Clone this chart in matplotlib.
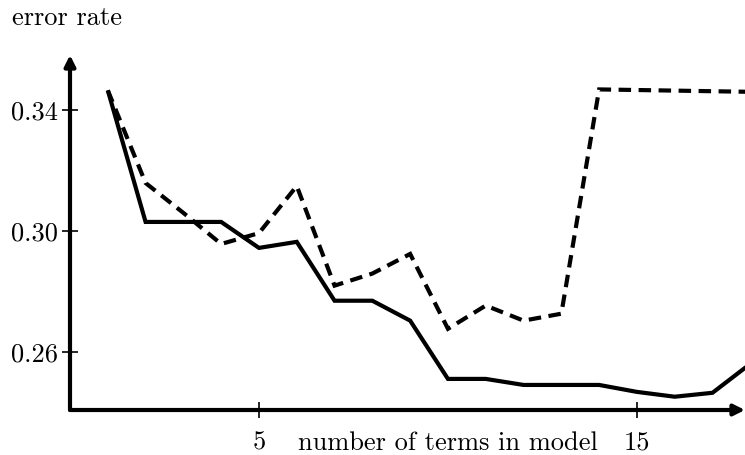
import numpy as np
import matplotlib.pyplot as plt

plt.rcParams['font.family'] = 'serif'
plt.rcParams['font.serif'] = ['cmr10']
plt.rcParams['mathtext.fontset'] = 'cm'
plt.rcParams['axes.formatter.use_mathtext'] = True

# model size vs. error rate
terms = np.arange(1, 19)
err_solid = [0.3466, 0.3030, 0.3030, 0.3030, 0.2944, 0.2964, 0.2769, 0.2769, 0.2703,
             0.2510, 0.2510, 0.2490, 0.2490, 0.2490, 0.2467, 0.2451, 0.2464, 0.2560]
err_dashed = [0.3466, 0.3159, 0.3060, 0.2957, 0.2993, 0.3149, 0.2819, 0.2859, 0.2924,
              0.2676, 0.2753, 0.2703, 0.2726, 0.3469, 0.3467, 0.3465, 0.3463, 0.3461]

xticks = [5, 15]
yticks = [0.26, 0.30, 0.34]
ytick_labels = ['0.26', '0.30', '0.34']

FS = 19
TICK_LEN = 12
XPAD = 9

fig = plt.figure(figsize=(7.45, 4.55), dpi=100)
ax = fig.add_axes([70 / 745, 45 / 455, 675 / 745, 355 / 455])
ax.set_xlim(0, 17.86)
ax.set_ylim(0.2407, 0.3583)

ax.plot(terms, err_solid, color='black', lw=3, solid_joinstyle='miter', solid_capstyle='butt')
ax.plot(terms, err_dashed, color='black', lw=3, dashes=(3, 1.8),
        dash_joinstyle='miter', dash_capstyle='butt')

for s in ax.spines.values():
    s.set_visible(False)

# axes drawn as arrows
for tip in [(1.0, 0), (0, 1.0)]:
    ax.annotate('', xy=tip, xytext=(0, 0), xycoords='axes fraction',
                arrowprops=dict(arrowstyle='-|>', lw=3, color='black', mutation_scale=16,
                                shrinkA=0, shrinkB=0))

ax.set_xticks(xticks)
ax.set_xticklabels([str(t) for t in xticks])
ax.set_yticks(yticks)
ax.set_yticklabels(ytick_labels)
ax.tick_params(direction='inout', length=TICK_LEN, width=1.2, labelsize=FS, pad=3)
ax.tick_params(axis='x', pad=XPAD)

# x label sits on the same line as the tick labels
ax.annotate('number of terms in model', xy=(10, 0), xycoords=('data', 'axes fraction'),
            xytext=(0, -(TICK_LEN / 2 + XPAD)), textcoords='offset points',
            ha='center', va='top', fontsize=FS)
fig.text(12 / 745, 1 - 18 / 455, 'error rate', ha='left', va='center', fontsize=FS)

fig.savefig('out.png', dpi=100)
